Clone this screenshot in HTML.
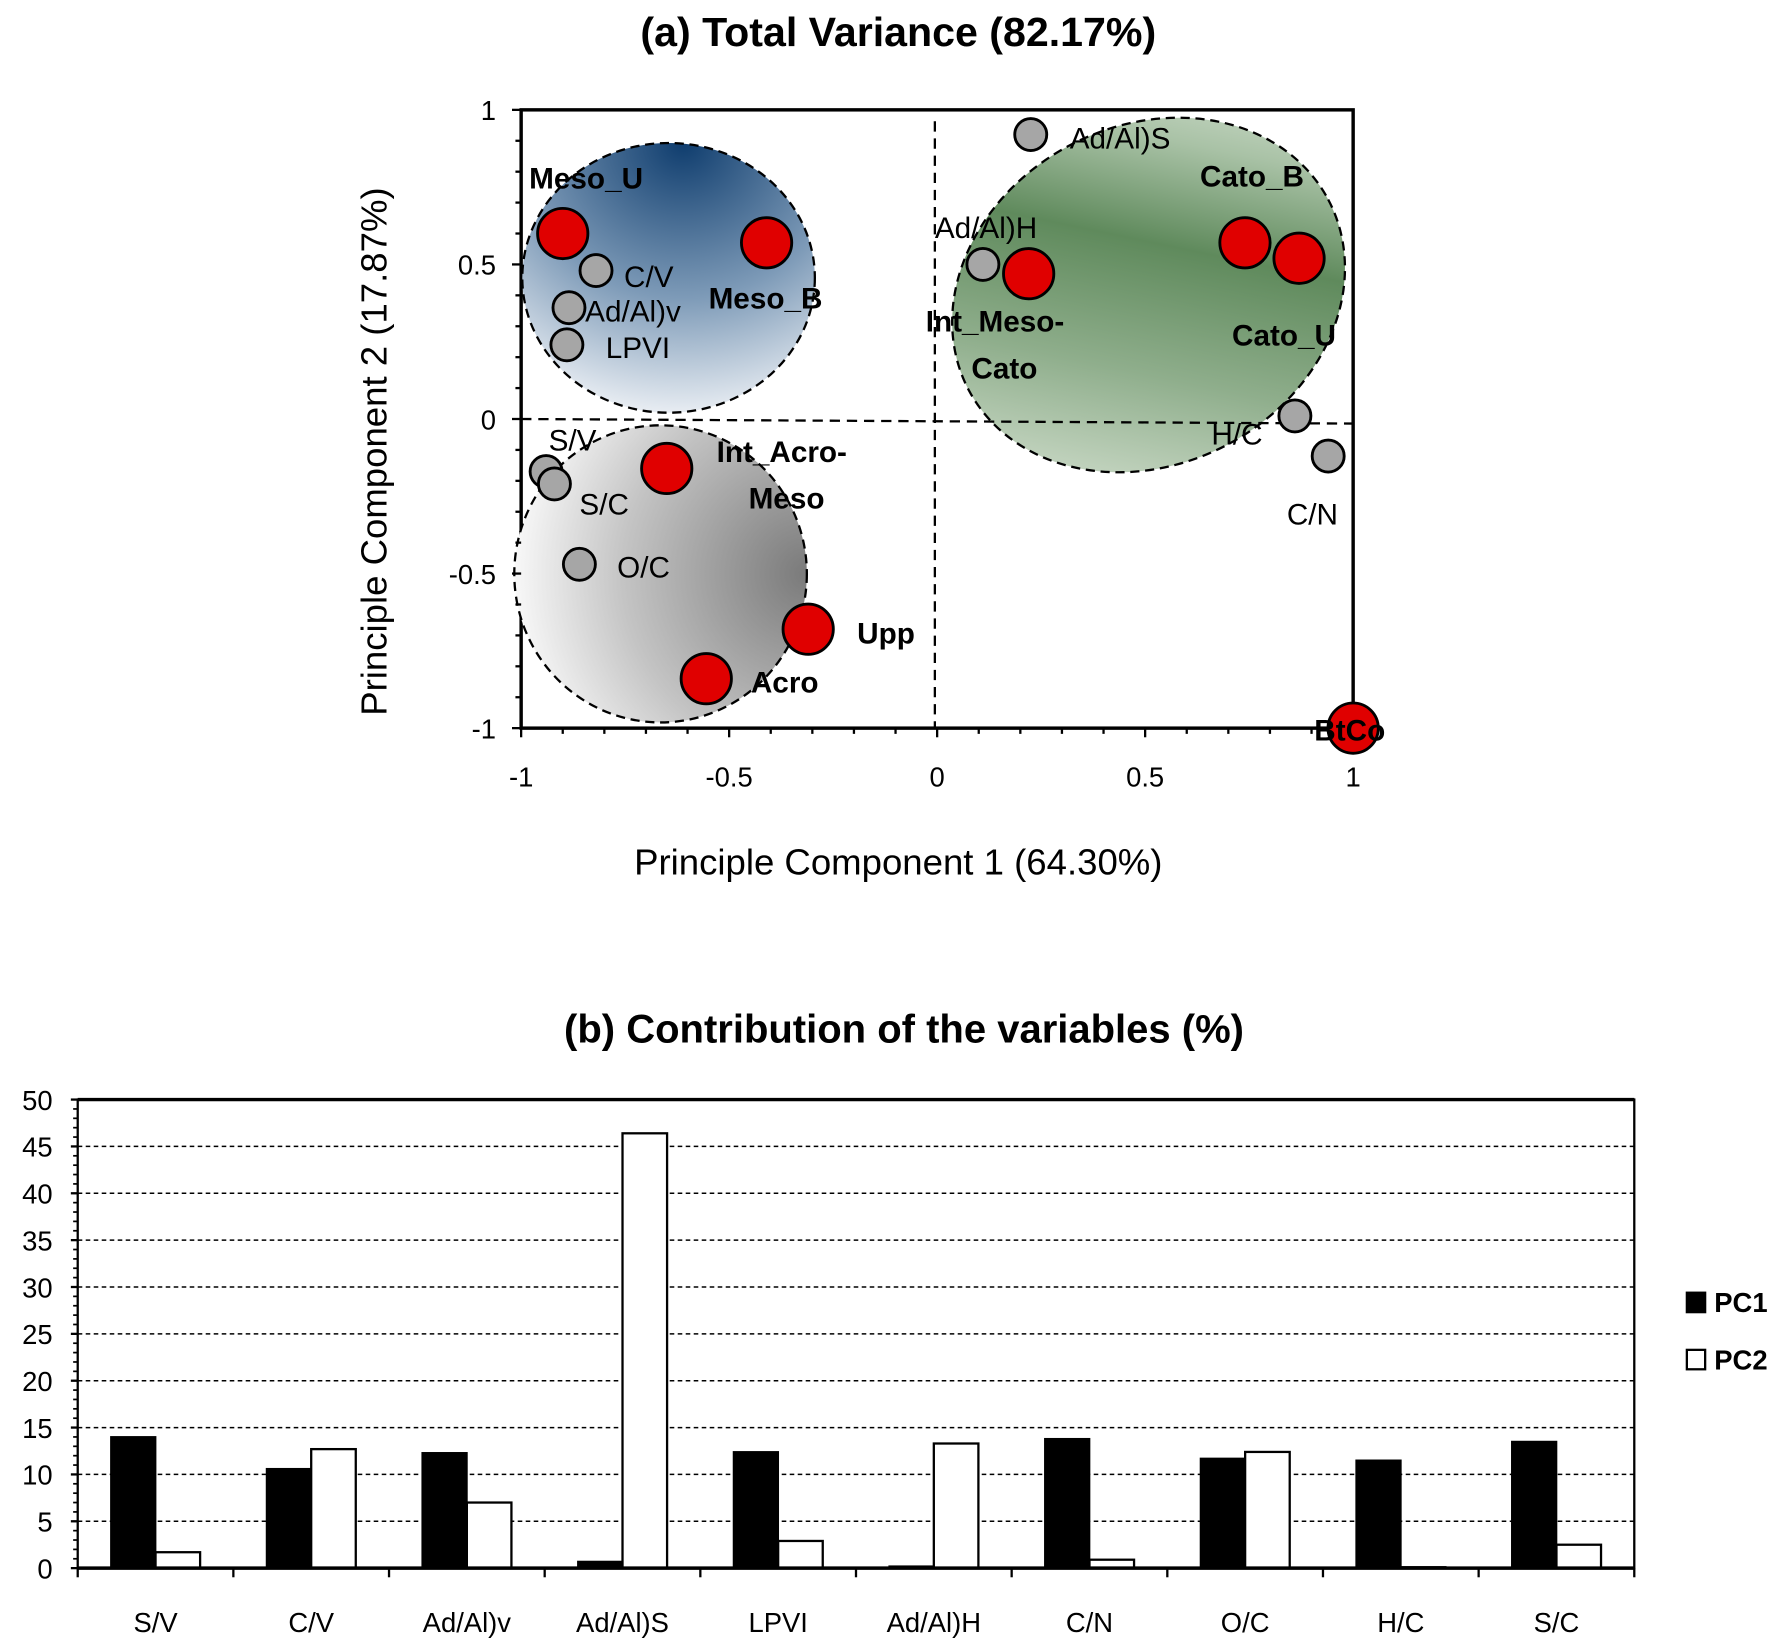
<!DOCTYPE html>
<html><head><meta charset="utf-8">
<style>
html,body{margin:0;padding:0;background:#fff;}
svg{display:block;font-family:"Liberation Sans",sans-serif;}
</style></head>
<body>
<svg id="fig" width="1792" height="1646" viewBox="0 0 1568 1440" xmlns="http://www.w3.org/2000/svg">
<defs>
<radialGradient id="gBlue" cx="0.55" cy="0.05" r="1" fx="0.55" fy="0.0">
<stop offset="0" stop-color="#0f3d6e"/><stop offset="0.55" stop-color="#7e9bb8"/><stop offset="1" stop-color="#f4f6f9"/></radialGradient>
<radialGradient id="gGrey" cx="0.95" cy="0.5" r="1" fx="1" fy="0.5">
<stop offset="0" stop-color="#7a7a7a"/><stop offset="0.6" stop-color="#c4c4c4"/><stop offset="1" stop-color="#ffffff"/></radialGradient>
<linearGradient id="gGreen" x1="0" y1="1" x2="1" y2="0">
<stop offset="0" stop-color="#e4ece0"/><stop offset="0.35" stop-color="#8fae8c"/><stop offset="0.6" stop-color="#5f8a5c"/><stop offset="0.8" stop-color="#a9c2a6"/><stop offset="1" stop-color="#dfe8dc"/></linearGradient>
</defs>
<text x="786" y="40" font-size="36" font-weight="bold" text-anchor="middle">(a) Total Variance (82.17%)</text>
<g id="scatter"></g>
<text x="786" y="765" font-size="32" text-anchor="middle">Principle Component 1 (64.30%)</text>
<text transform="translate(338,395) rotate(-90)" font-size="32" text-anchor="middle">Principle Component 2 (17.87%)</text>
<text x="791" y="912" font-size="35" font-weight="bold" text-anchor="middle">(b) Contribution of the variables (%)</text>
<g id="bars"></g>
<rect x="1476" y="1131" width="16" height="17" fill="#000" stroke="#000" stroke-width="2"/>
<text x="1500" y="1148" font-size="24" font-weight="bold">PC1</text>
<rect x="1476" y="1181" width="16" height="17" fill="#fff" stroke="#000" stroke-width="2"/>
<text x="1500" y="1198" font-size="24" font-weight="bold">PC2</text>
</svg>
<script>
// ---- Scatter (a) data ----
const redNames = ["Meso_U","Meso_B","Int_Meso-Cato","Cato_B","Cato_U","Int_Acro-Meso","Upp","Acro","BtCo"];
const redX = [-0.90,-0.41,0.22,0.74,0.87,-0.65,-0.31,-0.555,1.0];
const redY = [0.60,0.57,0.47,0.57,0.52,-0.16,-0.68,-0.84,-1.0];
const greyNames = ["Ad/Al)S","Ad/Al)H","C/V","Ad/Al)v","LPVI","S/V","S/C","O/C","H/C","C/N"];
const greyX = [0.225,0.11,-0.82,-0.885,-0.89,-0.94,-0.92,-0.86,0.86,0.94];
const greyY = [0.92,0.50,0.48,0.36,0.24,-0.17,-0.21,-0.47,0.01,-0.12];
const axTicks = [-1,-0.5,0,0.5,1];
const axTickLabels = ["-1","-0.5","0","0.5","1"];
// ---- Bar (b) data ----
const categories = ["S/V","C/V","Ad/Al)v","Ad/Al)S","LPVI","Ad/Al)H","C/N","O/C","H/C","S/C"];
const pc1 = [14.0,10.6,12.3,0.7,12.4,0.2,13.8,11.7,11.5,13.5];
const pc2 = [1.7,12.7,7.0,46.4,2.9,13.3,0.9,12.4,0.1,2.5];
const yTicks = [0,5,10,15,20,25,30,35,40,45,50];

const NS="http://www.w3.org/2000/svg";
function mk(tag,attrs,parent,txt){const e=document.createElementNS(NS,tag);for(const k in attrs)e.setAttribute(k,attrs[k]);if(txt!==undefined)e.textContent=txt;parent.appendChild(e);return e;}

const X0=456,X1=1184,Y0=637,Y1=96;
const sx=v=>X0+(v+1)/2*(X1-X0);
const sy=v=>Y0-(v+1)/2*(Y0-Y1);
const g=document.getElementById('scatter');
let e;
e=mk('rect',{x:X0,y:Y1,width:X1-X0,height:Y0-Y1,fill:'#fff',stroke:'#000','stroke-width':3},g);


e=mk('ellipse',{cx:585,cy:243,rx:128,ry:118,fill:'url(#gBlue)',stroke:'#000','stroke-width':2,'stroke-dasharray':'8,5'},g);


e=mk('ellipse',{cx:578,cy:502,rx:128,ry:130,fill:'url(#gGrey)',stroke:'#000','stroke-width':2,'stroke-dasharray':'8,5'},g);


e=mk('ellipse',{cx:1005,cy:258,rx:178,ry:148,transform:'rotate(-28 1005 258)',fill:'url(#gGreen)',stroke:'#000','stroke-width':2,'stroke-dasharray':'8,5'},g);


e=mk('line',{x1:X0,y1:sy(0),x2:X1,y2:sy(0)+4,stroke:'#000','stroke-width':2,'stroke-dasharray':'9,6'},g);


e=mk('line',{x1:sx(0)-2,y1:Y1+10,x2:sx(0)-2,y2:Y0,stroke:'#000','stroke-width':2,'stroke-dasharray':'9,6'},g);


for(let i=0;i<=20;i++){const v=-1+i*0.1;const L=(i%5===0)?8:5;
 mk('line',{x1:sx(v),y1:Y0,x2:sx(v),y2:Y0+L,stroke:'#000','stroke-width':2},g);
 mk('line',{x1:X0,y1:sy(v),x2:X0-L,y2:sy(v),stroke:'#000','stroke-width':2},g);}
axTicks.forEach((v,i)=>{
 e=mk('text',{x:sx(v),y:Y0+51,'font-size':24,'text-anchor':'middle'},g,axTickLabels[i]);
 
 
 e=mk('text',{x:X0-22,y:sy(v)+9,'font-size':24,'text-anchor':'end'},g,axTickLabels[i]);
 
 
});
greyNames.forEach((n,i)=>{
 e=mk('circle',{cx:sx(greyX[i]),cy:sy(greyY[i]),r:14,fill:'#a6a6a6',stroke:'#000','stroke-width':2.5},g);
 
 
});
redNames.forEach((n,i)=>{
 e=mk('circle',{cx:sx(redX[i]),cy:sy(redY[i]),r:22,fill:'#e00000',stroke:'#000','stroke-width':2.5},g);
 
 
});
const lbl=[["Meso_U",463,165,1],["Meso_B",620,270,1],["Int_Meso-",810,290,1],["Cato",850,331,1],["Cato_B",1050,163,1],["Cato_U",1078,302,1],["Int_Acro-",627,404,1],["Meso",655,445,1],["Upp",750,563,1],["Acro",657,606,1],["BtCo",1150,648,1],
["Ad/Al)S",936,130,0],["Ad/Al)H",818,208,0],["C/V",546,251,0],["Ad/Al)v",512,281,0],["LPVI",530,313,0],["S/V",480,394,0],["S/C",507,450,0],["O/C",540,505,0],["H/C",1060,389,0],["C/N",1126,459,0]];
lbl.forEach(l=>{
 e=mk('text',{x:l[1],y:l[2],'font-size':26,'font-weight':l[3]?'bold':'normal'},g,l[0]);
 
 
});

const BX0=68,BX1=1430,BY0=1372,BY1=962;
const by=v=>BY0-v/50*(BY0-BY1);
const cw=(BX1-BX0)/categories.length;
const b=document.getElementById('bars');
e=mk('rect',{x:BX0,y:BY1,width:BX1-BX0,height:BY0-BY1,fill:'#fff',stroke:'#000','stroke-width':2},b);


mk('line',{x1:BX0,y1:BY1,x2:BX1,y2:BY1,stroke:'#000','stroke-width':3},b);
yTicks.forEach(v=>{
 if(v>0&&v<50){e=mk('line',{x1:BX0,y1:by(v),x2:BX1,y2:by(v),stroke:'#000','stroke-width':1.3,'stroke-dasharray':'4,3'},b);
 
 }
 mk('line',{x1:BX0-6,y1:by(v),x2:BX0,y2:by(v),stroke:'#000','stroke-width':2},b);
 e=mk('text',{x:BX0-22,y:by(v)+9,'font-size':24,'text-anchor':'end'},b,String(v));
 
 
});
for(let v=1;v<50;v++){mk('line',{x1:BX0-4,y1:by(v),x2:BX0,y2:by(v),stroke:'#000','stroke-width':1.5},b);}
categories.forEach((c,i)=>{
 const cx=BX0+cw*(i+0.5);
 e=mk('rect',{x:cx-39,y:by(pc1[i]),width:39,height:BY0-by(pc1[i]),fill:'#000',stroke:'#000','stroke-width':1.5},b);
 
 
 e=mk('rect',{x:cx,y:by(pc2[i]),width:39,height:BY0-by(pc2[i]),fill:'#fff',stroke:'#000','stroke-width':2},b);
 
 
 e=mk('text',{x:cx,y:BY0+56,'font-size':24,'text-anchor':'middle'},b,c);
 
 
});
for(let i=0;i<=categories.length;i++){mk('line',{x1:BX0+cw*i,y1:BY0,x2:BX0+cw*i,y2:BY0+8,stroke:'#000','stroke-width':2},b);}
mk('line',{x1:BX0,y1:BY0,x2:BX1,y2:BY0,stroke:'#000','stroke-width':3},b);
</script>
</body></html>
